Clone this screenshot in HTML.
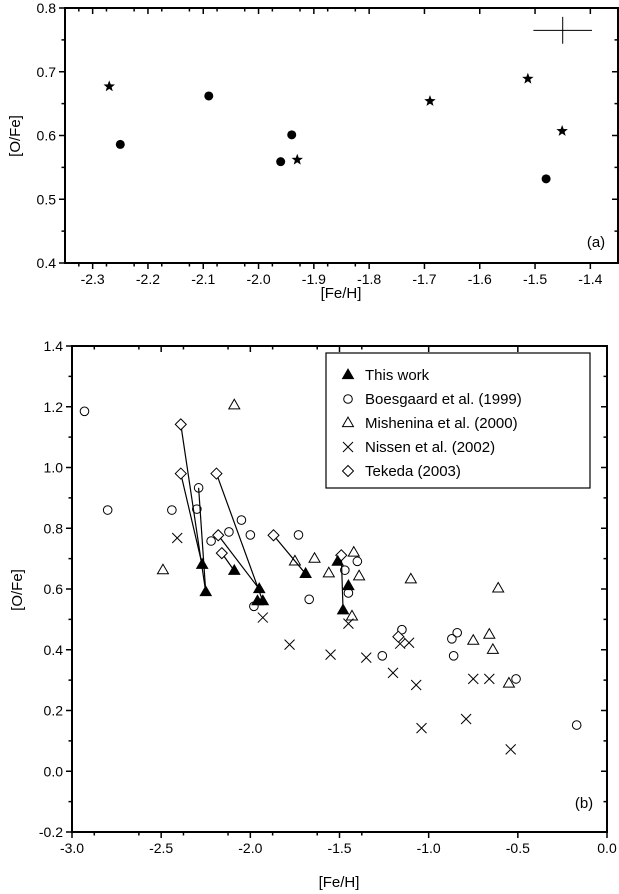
<!DOCTYPE html>
<html><head><meta charset="utf-8">
<style>
html,body{margin:0;padding:0;background:#fff;}
svg{display:block;font-family:"Liberation Sans",Arial,sans-serif;}
</style></head>
<body>
<svg id="chart" width="619" height="894" viewBox="0 0 619 894" xmlns="http://www.w3.org/2000/svg"></svg>
<script>
// ---- Panel (a) data ----
const aStarFe = [-2.27, -1.93, -1.69, -1.513, -1.451];
const aStarO  = [0.677, 0.562, 0.654, 0.689, 0.607];
const aCircFe = [-2.25, -2.09, -1.96, -1.94, -1.48];
const aCircO  = [0.586, 0.662, 0.559, 0.601, 0.532];
const aXTicks = [-2.3,-2.2,-2.1,-2.0,-1.9,-1.8,-1.7,-1.6,-1.5,-1.4];
const aYTicks = [0.4,0.5,0.6,0.7,0.8];

// ---- Panel (b) data ----
const thisFe = [-2.27,-2.25,-2.09,-1.95,-1.96,-1.93,-1.69,-1.51,-1.45,-1.48];
const thisO  = [0.68,0.59,0.66,0.60,0.56,0.56,0.65,0.69,0.61,0.53];
const boeFe = [-2.93,-2.80,-2.44,-2.29,-2.30,-2.22,-2.12,-2.05,-2.00,-1.73,-1.98,-1.67,-1.40,-1.47,-1.45,-1.26,-1.15,-0.84,-0.87,-0.86,-0.51,-0.17];
const boeO  = [1.185,0.86,0.86,0.933,0.863,0.758,0.788,0.827,0.778,0.778,0.543,0.566,0.691,0.662,0.587,0.38,0.466,0.456,0.436,0.38,0.304,0.152];
const misFe = [-2.09,-2.49,-1.75,-1.64,-1.56,-1.42,-1.39,-1.43,-1.10,-0.61,-0.75,-0.66,-0.64,-0.55];
const misO  = [1.205,0.662,0.691,0.70,0.652,0.72,0.642,0.51,0.632,0.602,0.43,0.45,0.40,0.289];
const nisFe = [-2.41,-1.93,-1.78,-1.55,-1.35,-1.45,-1.20,-1.07,-1.16,-1.11,-1.04,-0.79,-0.75,-0.66,-0.54];
const nisO  = [0.768,0.506,0.417,0.384,0.374,0.486,0.324,0.284,0.42,0.423,0.142,0.172,0.304,0.304,0.072];
const tekFe = [-2.39,-2.39,-2.19,-2.18,-2.16,-1.87,-1.49,-1.17];
const tekO  = [1.142,0.98,0.98,0.777,0.718,0.777,0.711,0.443];
const linkFromFe = [-2.39,-2.39,-2.29,-2.19,-2.18,-2.16,-1.87,-1.49];
const linkFromO  = [1.142,0.98,0.933,0.98,0.777,0.718,0.777,0.711];
const linkToFe   = [-2.25,-2.27,-2.25,-1.93,-1.95,-2.09,-1.69,-1.48];
const linkToO    = [0.59,0.68,0.59,0.56,0.60,0.66,0.65,0.53];
const bXTicks = [-3.0,-2.5,-2.0,-1.5,-1.0,-0.5,0.0];
const bYTicks = [-0.2,0.0,0.2,0.4,0.6,0.8,1.0,1.2,1.4];

const NS = "http://www.w3.org/2000/svg";
const svg = document.getElementById('chart');
function mk(tag, attrs, parent){
  const e = document.createElementNS(NS, tag);
  for (const k in attrs) e.setAttribute(k, attrs[k]);
  (parent||svg).appendChild(e);
  return e;
}
function lin(d0,d1,p0,p1){ return v => p0 + (v-d0)/(d1-d0)*(p1-p0); }

const A = {l:65, r:618, t:8, b:263, x:lin(-2.35,-1.35,65,618), y:lin(0.4,0.8,263,8)};
const B = {l:72, r:607, t:346, b:832, x:lin(-3,0,72,607), y:lin(-0.2,1.4,832,346)};

function frame(P, name){
  const r = mk('rect',{x:P.l,y:P.t,width:P.r-P.l,height:P.b-P.t,fill:'none',stroke:'#000','stroke-width':2});
  
  
}
function ticks(P, xt, yt, xminor, yminor, xfmt, yfmt, name){
  const g = mk('g',{});
  
  
  const ax = P.x, ay = P.y;
  xt.forEach(v=>{
    const px = ax(v);
    mk('line',{x1:px,y1:P.b,x2:px,y2:P.b+6,stroke:'#000','stroke-width':1.5},g);
    mk('line',{x1:px,y1:P.t,x2:px,y2:P.t+6,stroke:'#000','stroke-width':1.5},g);
    const t = mk('text',{x:px,y:P.b+21,'text-anchor':'middle','font-size':14},g);
    t.textContent = xfmt(v);
    
    
  });
  for (let i=0;i<xt.length+1;i++){
    const v = xt[0] + (i-0.5)*xminor*2;
    const px = ax(v);
    if (px<=P.l+1||px>=P.r-1) continue;
    mk('line',{x1:px,y1:P.b,x2:px,y2:P.b+3.5,stroke:'#000','stroke-width':1.5},g);
    mk('line',{x1:px,y1:P.t,x2:px,y2:P.t+3.5,stroke:'#000','stroke-width':1.5},g);
  }
  yt.forEach(v=>{
    const py = ay(v);
    mk('line',{x1:P.l,y1:py,x2:P.l-6,y2:py,stroke:'#000','stroke-width':1.5},g);
    mk('line',{x1:P.r,y1:py,x2:P.r-6,y2:py,stroke:'#000','stroke-width':1.5},g);
    const t = mk('text',{x:P.l-9,y:py+5,'text-anchor':'end','font-size':14},g);
    t.textContent = yfmt(v);
    
    
  });
  for (let i=0;i<yt.length-1;i++){
    const py = ay(yt[i]+yminor);
    mk('line',{x1:P.l,y1:py,x2:P.l-3.5,y2:py,stroke:'#000','stroke-width':1.5},g);
    mk('line',{x1:P.r,y1:py,x2:P.r-3.5,y2:py,stroke:'#000','stroke-width':1.5},g);
  }
}
function star(cx,cy,R,g){
  let pts=[];
  for(let i=0;i<10;i++){
    const r = i%2? R*0.42 : R;
    const a = -Math.PI/2 + i*Math.PI/5;
    pts.push((cx+r*Math.cos(a)).toFixed(2)+','+(cy+r*Math.sin(a)).toFixed(2));
  }
  return mk('polygon',{points:pts.join(' '),fill:'#000'},g);
}
function tri(cx,cy,s,fill,g){
  const h=s*0.87;
  return mk('polygon',{points:`${cx},${cy-h*0.62} ${cx-s/2},${cy+h*0.38} ${cx+s/2},${cy+h*0.38}`,fill:fill,stroke:'#000','stroke-width':1},g);
}
function diamond(cx,cy,s,g){
  return mk('polygon',{points:`${cx},${cy-s} ${cx+s},${cy} ${cx},${cy+s} ${cx-s},${cy}`,fill:'#fff',stroke:'#000','stroke-width':1},g);
}
function cross(cx,cy,s,g){
  return mk('path',{d:`M${cx-s},${cy-s}L${cx+s},${cy+s}M${cx-s},${cy+s}L${cx+s},${cy-s}`,stroke:'#000','stroke-width':1,fill:'none'},g);
}

// ===== Panel (a) =====
frame(A,'panel-a');
ticks(A,aXTicks,aYTicks,0.025,0.05,v=>v.toFixed(1),v=>v.toFixed(1),'panel-a');
const ga = mk('g',{});


aStarFe.forEach((v,i)=>{
  const s = star(A.x(v),A.y(aStarO[i]),6,ga);
  
  
});
aCircFe.forEach((v,i)=>{
  const c = mk('circle',{cx:A.x(v),cy:A.y(aCircO[i]),r:4.5,fill:'#000'},ga);
  
  
});
const eb = mk('path',{d:`M${A.x(-1.503)},${A.y(0.765)}H${A.x(-1.397)}M${A.x(-1.45)},${A.y(0.786)}V${A.y(0.744)}`,stroke:'#000','stroke-width':1,fill:'none'});


let t;
t = mk('text',{x:596,y:247,'text-anchor':'middle','font-size':15}); t.textContent='(a)';
 
t = mk('text',{x:341,y:298,'text-anchor':'middle','font-size':15}); t.textContent='[Fe/H]';
 
t = mk('text',{x:0,y:0,'text-anchor':'middle','font-size':15,transform:'translate(20,136) rotate(-90)'}); t.textContent='[O/Fe]';
 

// ===== Panel (b) =====
frame(B,'panel-b');
ticks(B,bXTicks,bYTicks,0.125,0.1,v=>v.toFixed(1),v=>v.toFixed(1),'panel-b');
const gb = mk('g',{});


linkFromFe.forEach((v,i)=>{
  const l = mk('line',{x1:B.x(v),y1:B.y(linkFromO[i]),x2:B.x(linkToFe[i]),y2:B.y(linkToO[i]),stroke:'#000','stroke-width':1.2},gb);
  
  
});
boeFe.forEach((v,i)=>{
  const c = mk('circle',{cx:B.x(v),cy:B.y(boeO[i]),r:4.3,fill:'none',stroke:'#000','stroke-width':1},gb);
  
  
});
misFe.forEach((v,i)=>{
  const p = tri(B.x(v),B.y(misO[i]),11,'none',gb);
  
  
});
nisFe.forEach((v,i)=>{
  const p = cross(B.x(v),B.y(nisO[i]),5,gb);
  
  
});
tekFe.forEach((v,i)=>{
  const p = diamond(B.x(v),B.y(tekO[i]),5.5,gb);
  
  
});
thisFe.forEach((v,i)=>{
  const p = tri(B.x(v),B.y(thisO[i]),11,'#000',gb);
  
  
});

const lg = mk('g',{});


mk('rect',{x:326,y:353,width:264,height:135,fill:'#fff',stroke:'#000','stroke-width':1.2},lg);
const legNames = ['This work','Boesgaard et al. (1999)','Mishenina et al. (2000)','Nissen et al. (2002)','Tekeda (2003)'];
legNames.forEach((n,i)=>{
  const y = 375 + i*24;
  let m;
  if(i===0) m = tri(348,y,11,'#000',lg);
  else if(i===1) m = mk('circle',{cx:348,cy:y,r:4.3,fill:'none',stroke:'#000','stroke-width':1},lg);
  else if(i===2) m = tri(348,y,11,'none',lg);
  else if(i===3) m = cross(348,y,5,lg);
  else m = diamond(348,y,5.5,lg);
  
  
  const tt = mk('text',{x:365,y:y+5,'font-size':15},lg);
  tt.textContent = n;
  
  
});
t = mk('text',{x:584,y:808,'text-anchor':'middle','font-size':15}); t.textContent='(b)';
 
t = mk('text',{x:339,y:887,'text-anchor':'middle','font-size':15}); t.textContent='[Fe/H]';
 
t = mk('text',{x:0,y:0,'text-anchor':'middle','font-size':15,transform:'translate(22,590) rotate(-90)'}); t.textContent='[O/Fe]';
 
</script>
</body></html>
